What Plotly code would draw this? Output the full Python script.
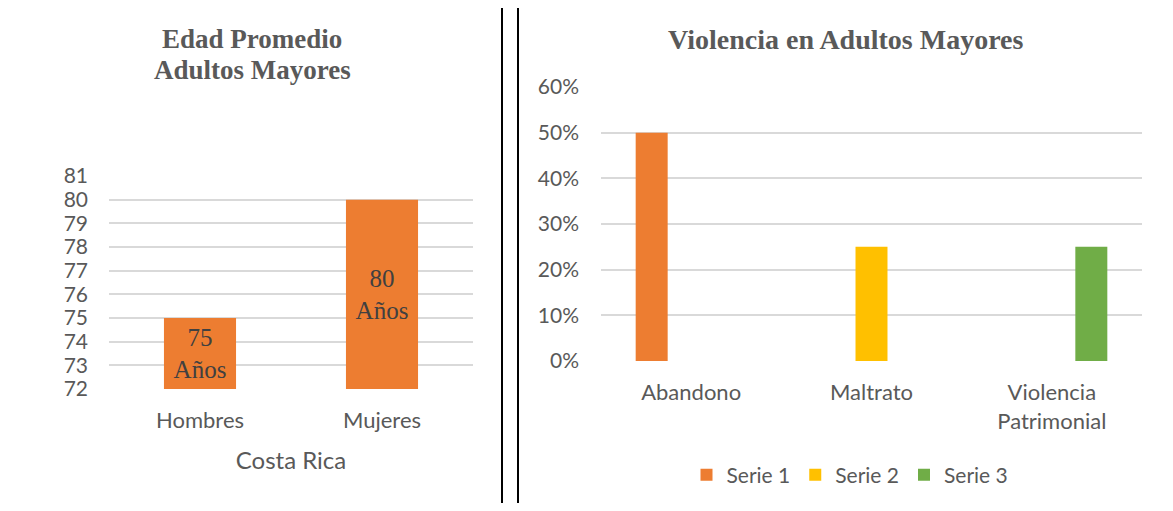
import plotly.graph_objects as go

# --- data ---
edad_categorias = ["Hombres", "Mujeres"]
edad_valores = [75, 80]
edad_eje = "Costa Rica"

violencia_categorias = ["Abandono", "Maltrato", "Violencia Patrimonial"]
violencia_ticks = ["Abandono", "Maltrato", "Violencia<br>Patrimonial"]
serie_nombres = ["Serie 1", "Serie 2", "Serie 3"]
serie_1 = [0.50, None, None]
serie_2 = [None, 0.25, None]
serie_3 = [None, None, 0.25]
serie_colores = ["#ED7D31", "#FFC000", "#70AD47"]

# page body has an 8px margin; keep the figure inside the window so no scrollbar
PAGE_W, PAGE_H, BODY = 1173, 511, 8
W, H = PAGE_W - BODY, PAGE_H - 2 * BODY
EDAD_MIN, EDAD_MAX = 72, 81

SANS = "Lato, Calibri, Carlito, sans-serif"
SERIF = "Liberation Serif, Times New Roman, serif"
GRIS = "#595959"
GRID = "#D9D9D9"


def px_x(p):
    return (p - BODY) / W


def px_y(p):
    return 1 - (p - BODY) / H


fig = go.Figure()

# left: edad promedio (bars start at the axis floor)
fig.add_trace(go.Bar(
    x=edad_categorias,
    y=[v - EDAD_MIN for v in edad_valores],
    base=EDAD_MIN,
    width=0.396,
    marker=dict(color="#ED7D31", line=dict(width=0)),
    text=[f"{v}<br>Años" for v in edad_valores],
    textposition="inside",
    insidetextanchor="middle",
    textfont=dict(family=SERIF, size=25, color="#404040"),
    showlegend=False,
    hoverinfo="skip",
    xaxis="x", yaxis="y",
))

# right: violencia (grouped, one bar per category)
for nombre, vals, color in zip(serie_nombres, [serie_1, serie_2, serie_3], serie_colores):
    fig.add_trace(go.Bar(
        x=violencia_categorias, y=vals, name=nombre,
        marker=dict(color=color, line=dict(width=0)),
        hoverinfo="skip",
        xaxis="x2", yaxis="y2",
    ))

ytick_font = dict(family=SANS, size=21, color=GRIS)
xtick_font = dict(family=SANS, size=22, color=GRIS)
title_font = dict(family=SERIF, size=27, color=GRIS, weight="bold")

# panel frames: left edge, top edge, right edge of each box
frames = []
for x0, x1 in [(2, 502), (518, 1170)]:
    for (ax, ay, bx, by) in [(x0, 2, x0, 520), (x0, 2, x1, 2), (x1, 2, x1, 520)]:
        frames.append(dict(type="line", xref="paper", yref="paper",
                           x0=px_x(ax), y0=px_y(ay), x1=px_x(bx), y1=px_y(by),
                           line=dict(color="black", width=2)))

fig.update_layout(
    width=W, height=H,
    margin=dict(l=0, r=0, t=0, b=0, autoexpand=False),
    paper_bgcolor="white", plot_bgcolor="white",
    barmode="group", bargap=0.343, bargroupgap=0.19,
    xaxis=dict(
        domain=[px_x(109), px_x(473)], anchor="y", automargin=False,
        showgrid=False, showline=False, zeroline=False,
        tickfont=xtick_font, ticklabelstandoff=16,
        title=dict(text=edad_eje, font=dict(family=SANS, size=24, color=GRIS), standoff=20),
    ),
    yaxis=dict(
        domain=[px_y(389), px_y(176)], anchor="x", automargin=False,
        range=[EDAD_MIN, EDAD_MAX], dtick=1,
        showgrid=True, gridcolor=GRID, gridwidth=1.5,
        zeroline=False, showline=False,
        tickfont=ytick_font, ticklabelstandoff=20,
    ),
    xaxis2=dict(
        domain=[px_x(601), px_x(1142)], anchor="y2", automargin=False,
        tickvals=violencia_categorias, ticktext=violencia_ticks,
        showgrid=False, showline=False, zeroline=False,
        tickfont=xtick_font, ticklabelstandoff=16,
    ),
    yaxis2=dict(
        domain=[px_y(361), px_y(87)], anchor="x2", automargin=False,
        range=[0, 0.6], dtick=0.1, tickformat=".0%",
        showgrid=True, gridcolor=GRID, gridwidth=1.5,
        zeroline=False, showline=False,
        tickfont=ytick_font, ticklabelstandoff=21,
    ),
    legend=dict(
        orientation="h", x=px_x(850), xanchor="center",
        y=px_y(475), yanchor="middle",
        font=dict(family=SANS, size=21, color=GRIS),
        itemwidth=30, traceorder="normal",
    ),
    annotations=[
        dict(text="Edad Promedio", x=px_x(252), y=px_y(39),
             xref="paper", yref="paper", showarrow=False, xanchor="center", yanchor="middle",
             font=title_font),
        dict(text="Adultos Mayores", x=px_x(252), y=px_y(70),
             xref="paper", yref="paper", showarrow=False, xanchor="center", yanchor="middle",
             font=title_font),
        dict(text="Violencia en Adultos Mayores", x=px_x(846), y=px_y(40),
             xref="paper", yref="paper", showarrow=False, xanchor="center", yanchor="middle",
             font=dict(title_font, size=28)),
    ],
    shapes=frames,
)

fig.write_html("out.html")
